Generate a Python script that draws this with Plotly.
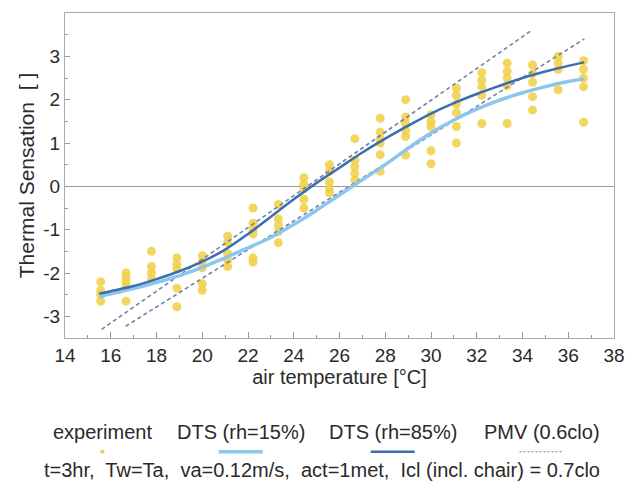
import plotly.graph_objects as go

# ---------------- data ----------------
exp_temps = [15.56, 16.67, 17.78, 18.89, 20.0, 21.11, 22.22, 23.33, 24.44, 25.56,
             26.67, 27.78, 28.89, 30.0, 31.11, 32.22, 33.33, 34.44, 35.56, 36.67]
exp_votes = [
    [-2.2, -2.4, -2.5, -2.65],
    [-2.0, -2.1, -2.2, -2.3, -2.65],
    [-1.5, -1.85, -2.0, -2.15],
    [-1.65, -1.8, -1.9, -2.35, -2.78],
    [-1.6, -1.75, -1.88, -2.25, -2.4],
    [-1.15, -1.3, -1.55, -1.7, -1.85],
    [-0.5, -0.85, -1.0, -1.1, -1.65, -1.75],
    [-0.42, -0.75, -0.9, -1.05, -1.3],
    [0.2, 0.05, -0.05, -0.3, -0.5],
    [0.5, 0.35, 0.1, -0.05, -0.15],
    [1.1, 0.6, 0.45, 0.3, 0.15],
    [1.57, 1.25, 1.1, 1.0, 0.73, 0.35],
    [2.0, 1.6, 1.45, 1.3, 1.15, 0.72],
    [1.65, 1.5, 1.38, 0.82, 0.52],
    [2.27, 2.1, 1.9, 1.7, 1.38, 1.0],
    [2.62, 2.45, 2.3, 2.1, 1.45],
    [2.84, 2.65, 2.5, 2.32, 1.45],
    [2.8, 2.6, 2.4, 2.07, 1.76],
    [3.0, 2.85, 2.7, 2.23],
    [2.9, 2.7, 2.5, 2.3, 1.48],
]

dts_t = [15.5, 16, 17, 18, 19, 20, 21, 22, 23, 24, 25, 26, 27, 28, 29, 30,
         31, 32, 33, 34, 35, 36, 36.7]
dts_rh15 = [-2.55, -2.48, -2.36, -2.22, -2.06, -1.87, -1.65, -1.42, -1.18, -0.88,
            -0.55, -0.2, 0.15, 0.5, 0.88, 1.23, 1.53, 1.78, 1.99, 2.16, 2.3, 2.42, 2.48]
dts_rh85 = [-2.48, -2.42, -2.30, -2.14, -1.96, -1.74, -1.46, -1.10, -0.70, -0.30,
            0.08, 0.43, 0.78, 1.10, 1.40, 1.68, 1.92, 2.13, 2.32, 2.50, 2.65, 2.78, 2.86]

pmv_a_t = [15.6, 34.4]
pmv_a_v = [-3.3, 3.6]
pmv_b_t = [16.65, 36.7]
pmv_b_v = [-3.23, 3.4]

x_ticks = list(range(14, 39, 2))
y_ticks = [-3, -2, -1, 0, 1, 2, 3]

legend_labels = ["experiment", "DTS (rh=15%)", "DTS (rh=85%)", "PMV (0.6clo)"]
footnote = "t=3hr,  Tw=Ta,  va=0.12m/s,  act=1met,  Icl (incl. chair) = 0.7clo"

# ---------------- styles ----------------
YELLOW = "#f1d14e"
LIGHT = "#8cc6ee"
DARK = "#3b6db3"
PMV = "#7480a3"
TXT = "#2a2a2a"
FONT = "Liberation Sans, Arial, sans-serif"
FS_TICK = 19
FS_TXT = 20

fig = go.Figure()

sx, sy = [], []
for t, vs in zip(exp_temps, exp_votes):
    for v in vs:
        sx.append(t)
        sy.append(v)

fig.add_trace(go.Scatter(x=sx, y=sy, mode="markers",
                         marker=dict(color=YELLOW, size=9, opacity=0.9),
                         showlegend=False))
fig.add_trace(go.Scatter(x=pmv_a_t, y=pmv_a_v, mode="lines",
                         line=dict(color=PMV, width=1.6, dash="4px,3px"), showlegend=False))
fig.add_trace(go.Scatter(x=pmv_b_t, y=pmv_b_v, mode="lines",
                         line=dict(color=PMV, width=1.6, dash="4px,3px"), showlegend=False))
fig.add_trace(go.Scatter(x=dts_t, y=dts_rh15, mode="lines", line_shape="spline",
                         line=dict(color=LIGHT, width=3.5), showlegend=False))
fig.add_trace(go.Scatter(x=dts_t, y=dts_rh85, mode="lines", line_shape="spline",
                         line=dict(color=DARK, width=2.5), showlegend=False))

fig.update_layout(
    width=637, height=484,
    margin=dict(l=65, r=13, t=13, b=146),
    paper_bgcolor="white", plot_bgcolor="white",
    font=dict(family=FONT, size=FS_TICK, color=TXT),
    showlegend=False,
)
fig.update_xaxes(
    range=[14, 38], tickvals=x_ticks, ticktext=[str(v) for v in x_ticks],
    ticks="inside", ticklen=6, tickcolor="#999", tickwidth=1,
    minor=dict(dtick=1, tick0=14, ticks="inside", ticklen=3, tickcolor="#999"),
    showline=True, mirror=True, linecolor="#aaaaaa", linewidth=1,
    showgrid=False, zeroline=False,
    title=dict(text="air temperature [°C]", font=dict(size=20, color=TXT), standoff=4),
    tickfont=dict(size=FS_TICK, color=TXT),
)
fig.update_yaxes(
    range=[-3.5, 4], tickvals=y_ticks, ticktext=[str(v) for v in y_ticks],
    ticks="inside", ticklen=5, tickcolor="#999", tickwidth=1,
    minor=dict(dtick=0.5, tick0=0, ticks="inside", ticklen=3, tickcolor="#999"),
    showline=True, mirror=True, linecolor="#aaaaaa", linewidth=1,
    showgrid=False, zeroline=True, zerolinecolor="#999999", zerolinewidth=1,
    title=dict(text="Thermal Sensation  [ ]", font=dict(size=21, color=TXT), standoff=2),
    tickfont=dict(size=FS_TICK, color=TXT),
)

# ---------------- custom legend below the plot ----------------
leg_x = [0.068, 0.320, 0.597, 0.868]
leg_y_text = -0.290
leg_y_sym = -0.350
for lx, lab in zip(leg_x, legend_labels):
    fig.add_annotation(x=lx, y=leg_y_text, xref="paper", yref="paper", text=lab,
                       showarrow=False, font=dict(size=FS_TXT, color=TXT),
                       xanchor="center", yanchor="middle")

half = 0.04
fig.add_shape(type="circle", xref="paper", yref="paper",
              x0=leg_x[0] - 0.004, x1=leg_x[0] + 0.004,
              y0=leg_y_sym - 0.006, y1=leg_y_sym + 0.006,
              fillcolor=YELLOW, line=dict(width=0))
fig.add_shape(type="line", xref="paper", yref="paper",
              x0=leg_x[1] - half, x1=leg_x[1] + half, y0=leg_y_sym, y1=leg_y_sym,
              line=dict(color=LIGHT, width=3.5))
fig.add_shape(type="line", xref="paper", yref="paper",
              x0=leg_x[2] - half, x1=leg_x[2] + half, y0=leg_y_sym, y1=leg_y_sym,
              line=dict(color=DARK, width=2.5))
fig.add_shape(type="line", xref="paper", yref="paper",
              x0=leg_x[3] - half, x1=leg_x[3] + half, y0=leg_y_sym, y1=leg_y_sym,
              line=dict(color=PMV, width=1.2, dash="2px,2px"))

fig.add_annotation(x=0.469, y=-0.405, xref="paper", yref="paper", text=footnote,
                   showarrow=False, font=dict(size=FS_TXT, color=TXT),
                   xanchor="center", yanchor="middle")

fig.write_html("out.html")
